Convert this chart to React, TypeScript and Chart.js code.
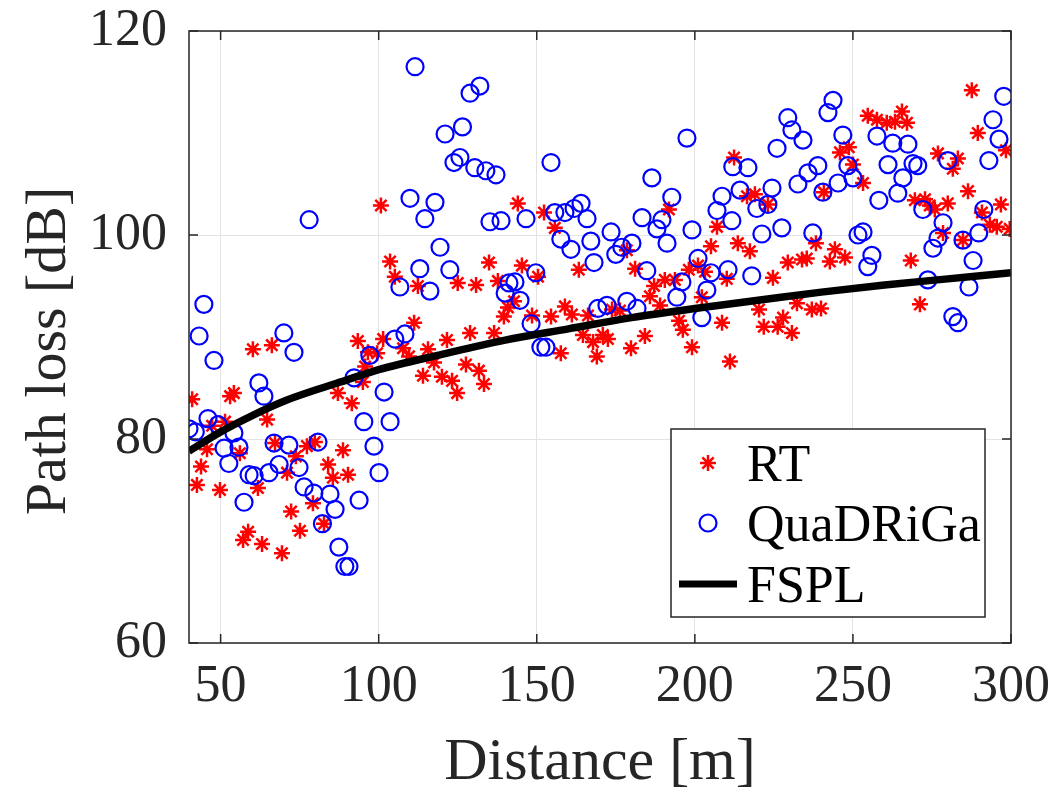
import React, { useEffect, useRef } from "react";
import { Chart, registerables } from "chart.js";

Chart.register(...registerables);

// ---------- data ----------
const rtDistance = [
  41.0, 60.2, 66.2, 53.0, 54.2, 64.7, 47.3, 51.4, 45.7, 43.8, 42.5, 49.8, 56.1, 67.2, 61.8, 71.0, 73.8, 77.3, 79.8, 79.2,
  72.3, 75.1, 58.7, 57.1, 63.1, 69.4,
  111.2, 93.4, 101.4, 107.7, 109.6, 99.5, 96.6, 95.7, 95.0, 87.1, 91.5, 115.6, 121.6, 117.5, 114.0, 120.0, 123.2, 124.8,
  88.7, 84.0, 85.5, 90.3, 82.7,
  100.7, 103.6, 105.1, 112.4, 125.0,
  144.0, 152.3, 155.7, 163.3, 134.9, 145.3, 130.8, 137.7, 150.4, 142.8, 139.6, 140.9, 148.5, 154.5, 158.9, 161.1, 166.2,
  128.9, 136.5,
  157.6, 164.6, 167.8, 169.0, 127.6, 131.7, 133.3,
  212.4, 191.8, 207.0, 205.1, 213.6, 178.5, 181.1, 198.1, 201.0, 203.2, 210.1, 187.1, 190.5, 193.7, 185.8, 189.0, 202.2,
  176.3, 173.8, 195.0, 196.2, 208.6,
  170.9, 172.5, 179.8, 184.2, 199.1, 211.1,
  254.7, 257.6, 245.9, 248.7, 250.0, 253.2, 240.8, 216.5, 219.0, 223.1, 217.4, 238.3, 244.3, 247.5, 242.7, 229.4, 233.9,
  235.4, 224.7, 220.3, 232.3, 237.0, 239.9, 227.9, 221.8, 226.2, 230.7,
  287.6, 289.5, 298.4, 260.7, 263.3, 265.5, 267.1, 276.9, 283.2, 281.6, 286.4, 269.6, 272.8, 274.3, 275.9, 280.0, 296.8,
  290.8, 293.3, 295.5, 299.6, 278.5, 284.8, 268.3, 271.2,
];
const rtPathLoss = [
  83.9, 88.8, 89.2, 84.2, 84.5, 81.9, 81.3, 81.7, 79.0, 77.3, 75.5, 75.0, 78.6, 79.6, 75.2, 76.7, 78.3, 79.3, 79.7, 73.7,
  72.9, 71.0, 70.9, 70.1, 69.7, 68.8,
  91.4, 89.6, 89.8, 88.9, 88.1, 88.4, 88.5, 87.1, 85.6, 84.5, 83.5, 88.8, 89.7, 87.5, 86.2, 86.1, 85.7, 84.5,
  78.9, 77.5, 76.2, 76.5, 71.7,
  102.9, 97.4, 95.9, 95.0, 95.3,
  103.1, 102.2, 100.7, 96.6, 97.3, 97.0, 95.1, 95.5, 95.9, 93.5, 92.0, 92.9, 92.1, 92.0, 93.0, 92.2, 92.1,
  90.4, 90.4,
  88.4, 90.2, 89.5, 88.1, 87.3, 86.7, 85.4,
  107.6, 102.5, 100.8, 98.9, 99.2, 98.5, 96.7, 96.6, 97.0, 96.4, 95.7, 95.0, 95.6, 95.6, 94.0, 93.1, 93.9,
  92.6, 92.7, 91.6, 90.7, 91.4,
  90.2, 89.8, 88.9, 90.1, 89.0, 87.6,
  111.7, 111.3, 108.1, 108.6, 106.9, 105.1, 104.2, 103.8, 104.0, 103.0, 98.4, 99.2, 98.6, 97.8, 97.4, 97.3, 97.6,
  97.7, 95.8, 92.7, 93.3, 92.7, 92.8, 91.9, 91.0, 91.0, 90.4,
  114.2, 110.0, 108.3, 111.0, 111.1, 112.1, 111.0, 108.0, 107.5, 106.5, 104.3, 103.4, 103.5, 102.9, 102.5, 103.1, 103.0,
  102.2, 101.0, 100.8, 100.6, 100.2, 99.5, 97.5, 93.2,
];

const qdDistance = [
  40.0, 42.0, 44.7, 78.0, 43.2, 70.0, 47.9, 73.2, 62.1, 63.7, 46.0, 49.2, 54.2, 51.1, 55.8, 52.6, 59.0, 60.6, 65.3, 66.9,
  71.6, 68.5, 74.8, 76.4, 79.5, 57.4, 80.8, 82.2,
  97.2, 105.1, 108.3, 92.2, 101.7, 95.3, 103.6, 98.5, 100.1, 84.6, 86.2, 93.8, 87.4, 89.3, 90.6,
  111.5, 121.0, 126.5, 123.8, 125.7, 109.9, 117.8, 114.6, 119.4, 113.0, 122.5, 106.7, 116.2,
  132.0, 128.9, 130.4, 133.9, 137.1, 154.5, 135.2, 138.7, 146.6, 155.7, 158.9, 161.8, 164.0, 165.9, 157.6, 160.8, 167.1,
  168.1, 141.2, 143.1, 140.0, 144.7, 149.7, 148.2, 169.3, 151.3, 152.9,
  197.5, 186.4, 192.7, 183.3, 189.6, 188.0, 199.1, 173.5, 180.1, 176.9, 175.0, 191.2, 201.0, 184.8, 205.1, 210.5, 195.9,
  203.8, 194.3, 178.5, 172.2, 181.7, 202.2, 212.0, 214.3, 208.6, 207.0, 211.7,
  243.7, 242.1, 229.4, 230.7, 234.2, 226.0, 246.8, 257.6, 238.9, 235.8, 232.6, 248.4, 250.0, 245.3, 240.5, 216.8, 224.4,
  219.6, 223.1, 221.2, 227.5, 237.3, 251.6, 253.2, 256.0, 254.7, 218.0, 258.2,
  297.7, 294.3, 296.2, 293.0, 262.6, 267.4, 261.1, 269.0, 270.5, 265.8, 264.2, 280.0, 272.1, 291.4, 278.5, 276.9, 275.3,
  284.8, 289.8, 288.0, 273.7, 286.7, 281.6, 283.2,
];
const qdPathLoss = [
  81.0, 80.7, 93.2, 101.5, 90.1, 90.4, 87.7, 88.5, 85.5, 84.2, 82.0, 81.4, 80.6, 79.1, 79.2, 77.6, 76.5, 76.4, 76.7, 79.6,
  79.4, 77.5, 77.2, 75.3, 74.7, 73.8, 79.7, 71.7,
  88.2, 89.8, 90.3, 86.0, 84.6, 81.7, 81.7, 79.3, 76.7, 74.6, 73.1, 74.0, 69.4, 67.5, 67.5,
  116.5, 109.9, 110.6, 107.1, 107.6, 103.6, 103.2, 101.6, 98.8, 96.7, 96.6, 94.9, 94.5,
  114.6, 113.9, 106.6, 106.3, 105.9, 107.1, 101.3, 101.4, 101.6, 102.2, 102.2, 102.6, 103.1, 101.6, 99.6, 98.6, 99.4,
  97.3, 95.3, 95.4, 94.3, 93.6, 96.3, 91.3, 92.8, 89.0, 89.0,
  109.5, 105.6, 103.7, 101.7, 101.5, 100.6, 100.5, 100.3, 99.2, 98.8, 98.1, 99.2, 97.7, 96.5, 96.3, 96.6, 95.4,
  94.6, 93.9, 93.5, 93.1, 92.8, 91.9, 106.7, 104.4, 103.8, 102.4, 101.4,
  113.2, 112.0, 111.5, 110.3, 109.3, 108.5, 109.8, 109.7, 106.8, 106.1, 105.0, 106.8, 105.6, 105.1, 104.2, 106.6, 104.6,
  102.6, 103.0, 100.1, 100.7, 100.2, 100.0, 100.3, 98.0, 96.9, 96.0, 103.4,
  113.6, 111.3, 109.4, 107.3, 109.0, 108.9, 106.9, 107.0, 106.8, 105.6, 104.1, 107.3, 102.5, 102.5, 101.2, 99.7, 98.7,
  99.5, 100.2, 97.5, 95.6, 94.9, 92.0, 91.4,
];

const fsplDistance = [40, 50, 60, 70, 80, 90, 100, 120, 140, 160, 180, 200, 220, 240, 260, 280, 300];
const fsplPathLoss = [78.8, 80.7, 82.3, 83.7, 84.8, 85.8, 86.8, 88.3, 89.7, 90.8, 91.9, 92.8, 93.6, 94.4, 95.1, 95.7, 96.3];

const xTicks = [50, 100, 150, 200, 250, 300];
const yTicks = [60, 80, 100, 120];
const legendLabels = ["RT", "QuaDRiGa", "FSPL"];
const xTitle = "Distance [m]";
const yTitle = "Path loss [dB]";

const FONT = "'Liberation Serif', 'DejaVu Serif', serif";
const RED = "#ff0000";
const BLUE = "#0000ff";
const TEXT = "#262626";

function drawAsterisk(ctx: CanvasRenderingContext2D, x: number, y: number, r: number) {
  ctx.beginPath();
  for (let k = 0; k < 4; k++) {
    const a = (k * Math.PI) / 4;
    ctx.moveTo(x - r * Math.cos(a), y - r * Math.sin(a));
    ctx.lineTo(x + r * Math.cos(a), y + r * Math.sin(a));
  }
  ctx.stroke();
}

const framePlugin = {
  id: "frameAndLegend",
  afterDraw(chart: any) {
    const { ctx, chartArea } = chart;
    const { left, right, top, bottom } = chartArea;
    const xs = chart.scales.x;
    const ys = chart.scales.y;
    ctx.save();
    // axes box
    ctx.strokeStyle = TEXT;
    ctx.lineWidth = 1.5;
    ctx.strokeRect(left, top, right - left, bottom - top);
    // inward ticks
    const tl = 9;
    ctx.beginPath();
    xTicks.forEach((t) => {
      const px = xs.getPixelForValue(t);
      ctx.moveTo(px, bottom);
      ctx.lineTo(px, bottom - tl);
      ctx.moveTo(px, top);
      ctx.lineTo(px, top + tl);
    });
    yTicks.forEach((t) => {
      const py = ys.getPixelForValue(t);
      ctx.moveTo(left, py);
      ctx.lineTo(left + tl, py);
      ctx.moveTo(right, py);
      ctx.lineTo(right - tl, py);
    });
    ctx.stroke();

    // y-axis title
    ctx.fillStyle = TEXT;
    ctx.font = `58px ${FONT}`;
    ctx.textAlign = "center";
    ctx.textBaseline = "middle";
    ctx.translate(50, (top + bottom) / 2 + 14);
    ctx.rotate(-Math.PI / 2);
    ctx.fillText(yTitle, 0, 0);
    ctx.setTransform(1, 0, 0, 1, 0, 0);
    ctx.restore();

    ctx.save();
    // legend
    const bw = 314;
    const bh = 188;
    const bx = right - 26 - bw;
    const by = bottom - 26 - bh;
    ctx.fillStyle = "#ffffff";
    ctx.fillRect(bx, by, bw, bh);
    ctx.strokeStyle = TEXT;
    ctx.lineWidth = 1.5;
    ctx.strokeRect(bx, by, bw, bh);

    const mx = bx + 37;
    const rows = [by + 34, by + 94, by + 155];
    ctx.strokeStyle = RED;
    ctx.lineWidth = 2.5;
    drawAsterisk(ctx, mx, rows[0], 8);
    ctx.strokeStyle = BLUE;
    ctx.lineWidth = 2.2;
    ctx.beginPath();
    ctx.arc(mx, rows[1], 8.5, 0, Math.PI * 2);
    ctx.stroke();
    ctx.strokeStyle = "#000000";
    ctx.lineWidth = 7;
    ctx.beginPath();
    ctx.moveTo(bx + 8, rows[2]);
    ctx.lineTo(bx + 66, rows[2]);
    ctx.stroke();

    ctx.fillStyle = "#000000";
    ctx.font = `52px ${FONT}`;
    ctx.textBaseline = "alphabetic";
    ctx.textAlign = "left";
    legendLabels.forEach((lab, i) => {
      ctx.fillText(lab, bx + 76, rows[i] + 18);
    });
    ctx.restore();
  },
};

export default function App() {
  const canvasRef = useRef<HTMLCanvasElement | null>(null);

  useEffect(() => {
    if (!canvasRef.current) return;
    const rtPoints = rtDistance.map((d, i) => ({ x: d, y: rtPathLoss[i] }));
    const qdPoints = qdDistance.map((d, i) => ({ x: d, y: qdPathLoss[i] }));
    const fsplPoints = fsplDistance.map((d, i) => ({ x: d, y: fsplPathLoss[i] }));

    const chart = new Chart(canvasRef.current, {
      type: "scatter",
      data: {
        datasets: [
          {
            type: "line",
            label: legendLabels[2],
            data: fsplPoints,
            borderColor: "#000000",
            borderWidth: 7.5,
            pointRadius: 0,
            fill: false,
            showLine: true,
            cubicInterpolationMode: "monotone",
          } as any,
          {
            label: legendLabels[1],
            data: qdPoints,
            pointStyle: "circle",
            pointRadius: 8.5,
            borderColor: BLUE,
            backgroundColor: "rgba(0,0,0,0)",
            borderWidth: 2.2,
          },
          {
            label: legendLabels[0],
            data: rtPoints,
            pointStyle: "star",
            pointRadius: 8,
            borderColor: RED,
            backgroundColor: RED,
            borderWidth: 2.5,
          },
        ],
      },
      options: {
        animation: false,
        responsive: true,
        maintainAspectRatio: false,
        layout: { padding: { left: 0, top: 31, right: 47, bottom: 0 } },
        plugins: {
          legend: { display: false },
          tooltip: { enabled: false },
        },
        scales: {
          x: {
            type: "linear",
            min: 40,
            max: 300,
            afterBuildTicks: (scale: any) => {
              scale.ticks = xTicks.map((v) => ({ value: v }));
            },
            afterFit: (scale: any) => {
              scale.height = 156;
              scale.paddingLeft = 0;
              scale.paddingRight = 0;
            },
            grid: { color: "#e3e3e3", lineWidth: 1, drawTicks: false },
            border: { display: false },
            ticks: {
              color: TEXT,
              font: { family: FONT, size: 52 },
              padding: 13,
              maxRotation: 0,
            },
            title: {
              display: true,
              text: xTitle,
              color: TEXT,
              font: { family: FONT, size: 60 },
              padding: { top: 0, bottom: 0 },
            },
          },
          y: {
            type: "linear",
            min: 60,
            max: 120,
            afterBuildTicks: (scale: any) => {
              scale.ticks = yTicks.map((v) => ({ value: v }));
            },
            afterFit: (scale: any) => {
              scale.width = 189;
              scale.paddingTop = 0;
              scale.paddingBottom = 0;
            },
            grid: { color: "#e3e3e3", lineWidth: 1, drawTicks: false },
            border: { display: false },
            ticks: {
              color: TEXT,
              font: { family: FONT, size: 52 },
              padding: 22,
            },
          },
        },
      },
      plugins: [framePlugin],
    });
    return () => chart.destroy();
  }, []);

  return (
    <div style={{ position: "fixed", left: 0, top: 0, width: 1058, height: 799, background: "#fff" }}>
      <canvas ref={canvasRef} />
    </div>
  );
}
